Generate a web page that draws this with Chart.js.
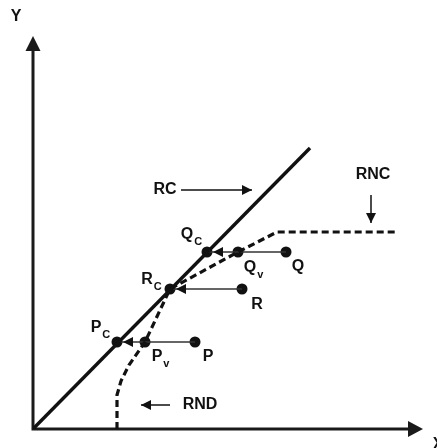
<!DOCTYPE html>
<html>
<head>
<meta charset="utf-8">
<script src="https://cdn.jsdelivr.net/npm/chart.js@4/dist/chart.umd.min.js"></script>
<style>
  html, body { margin: 0; padding: 0; background: #fff; }
  #wrap { width: 437px; height: 448px; }
</style>
</head>
<body>
<div id="wrap"><canvas id="c" width="437" height="448"></canvas></div>
<script>
// ---- data (abstract diagram units) ----
const rcLine = [[0, 0], [277, 281]];
const rndCurve = [[84, 0], [84, 34], [88, 48], [96, 64], [112, 87], [137, 140], [205, 177], [244, 197], [365, 197]];
const pointNames = ['Pc', 'Pv', 'P', 'Rc', 'R', 'Qc', 'Qv', 'Q'];
const pointX = [84, 112, 162, 137, 209, 174, 205, 253];
const pointY = [87, 87, 87, 140, 140, 177, 177, 177];
const moveFrom = ['P', 'R', 'Q'];
const moveTo = ['Pc', 'Rc', 'Qc'];
const axisMax = { x: 390, y: 393 };

// label texts: [main, subscript, anchorX, anchorY]
const labelTexts = [
  ['Y', '', -17, 412],
  ['X', '', 405, -16],
  ['RC', '', 132, 239],
  ['RNC', '', 340, 254],
  ['RND', '', 167, 24],
  ['Q', 'C', 154, 194],
  ['Q', 'v', 217, 161],
  ['Q', '', 265, 162],
  ['R', 'C', 114, 149],
  ['R', '', 224, 124],
  ['P', 'C', 63, 101],
  ['P', 'v', 124, 72],
  ['P', '', 175, 72]
];
// pointer arrows: [x1, y1, x2, y2]
const pointerArrows = [
  [148, 239, 219, 239],
  [338, 234, 338, 206],
  [137, 24, 108, 24]
];

const pt = n => { const i = pointNames.indexOf(n); return { x: pointX[i], y: pointY[i] }; };
const toXY = arr => arr.map(p => ({ x: p[0], y: p[1] }));

const datasets = [
  { data: toXY(rcLine), showLine: true, borderColor: '#111', borderWidth: 3.4, pointRadius: 0 },
  { data: toXY(rndCurve), showLine: true, borderColor: '#111', borderWidth: 3.2, borderDash: [7, 4], pointRadius: 0 }
];
moveFrom.forEach((f, i) => {
  datasets.push({ data: [pt(f), pt(moveTo[i])], showLine: true, borderColor: '#333', borderWidth: 1.6, pointRadius: 0 });
});
datasets.push({
  data: pointNames.map(n => pt(n)), showLine: false, pointRadius: 5.5,
  pointBackgroundColor: '#111', pointBorderColor: '#111', pointBorderWidth: 0
});

function head(ctx, x1, y1, x2, y2, len, hw) {
  const a = Math.atan2(y2 - y1, x2 - x1);
  ctx.beginPath();
  ctx.moveTo(x2, y2);
  ctx.lineTo(x2 - len * Math.cos(a) + hw * Math.sin(a), y2 - len * Math.sin(a) - hw * Math.cos(a));
  ctx.lineTo(x2 - len * Math.cos(a) - hw * Math.sin(a), y2 - len * Math.sin(a) + hw * Math.cos(a));
  ctx.closePath();
  ctx.fill();
}

const decor = {
  id: 'decor',
  beforeDatasetsDraw(chart) {
    const { ctx, scales: { x, y } } = chart;
    ctx.save();
    ctx.strokeStyle = '#1a1a1a';
    ctx.fillStyle = '#1a1a1a';
    ctx.lineWidth = 3;
    const ox = x.getPixelForValue(0), oy = y.getPixelForValue(0);
    const ty = y.getPixelForValue(axisMax.y), rx = x.getPixelForValue(axisMax.x);
    ctx.beginPath();
    ctx.moveTo(ox, oy + 1.5); ctx.lineTo(ox, ty + 12);
    ctx.moveTo(ox - 1.5, oy); ctx.lineTo(rx - 12, oy);
    ctx.stroke();
    head(ctx, ox, oy, ox, ty, 15, 7.5);
    head(ctx, ox, oy, rx, oy, 15, 8);
    ctx.restore();
  },
  afterDatasetsDraw(chart) {
    const { ctx, scales: { x, y } } = chart;
    ctx.save();
    ctx.fillStyle = '#111';
    ctx.strokeStyle = '#111';
    moveFrom.forEach((f, i) => {
      const a = pt(f), b = pt(moveTo[i]);
      const x1 = x.getPixelForValue(a.x), y1 = y.getPixelForValue(a.y);
      const x2 = x.getPixelForValue(b.x) + 6, y2 = y.getPixelForValue(b.y);
      head(ctx, x1, y1, x2, y2, 10, 5);
    });
    ctx.lineWidth = 1.5;
    pointerArrows.forEach(p => {
      const x1 = x.getPixelForValue(p[0]), y1 = y.getPixelForValue(p[1]);
      const x2 = x.getPixelForValue(p[2]), y2 = y.getPixelForValue(p[3]);
      ctx.beginPath(); ctx.moveTo(x1, y1); ctx.lineTo(x2, y2); ctx.stroke();
      head(ctx, x1, y1, x2, y2, 10, 5);
    });
    ctx.textBaseline = 'middle';
    labelTexts.forEach(l => {
      const px = x.getPixelForValue(l[2]), py = y.getPixelForValue(l[3]);
      ctx.font = 'bold 16px "Liberation Sans", Arial, sans-serif';
      ctx.textAlign = 'center';
      ctx.fillText(l[0], px, py);
      if (l[1]) {
        const w = ctx.measureText(l[0]).width;
        ctx.font = 'bold 11px "Liberation Sans", Arial, sans-serif';
        ctx.textAlign = 'left';
        ctx.fillText(l[1], px + w / 2 + 1, py + 7);
      }
    });
    ctx.restore();
  }
};

new Chart(document.getElementById('c'), {
  type: 'scatter',
  data: { datasets },
  options: {
    responsive: false,
    animation: false,
    layout: { padding: { left: 33, right: 14, top: 36, bottom: 19 } },
    scales: {
      x: { type: 'linear', min: 0, max: axisMax.x, display: false },
      y: { type: 'linear', min: 0, max: axisMax.y, display: false }
    },
    plugins: { legend: { display: false }, tooltip: { enabled: false } },
    elements: { line: { tension: 0 } }
  },
  plugins: [decor]
});
</script>
</body>
</html>
